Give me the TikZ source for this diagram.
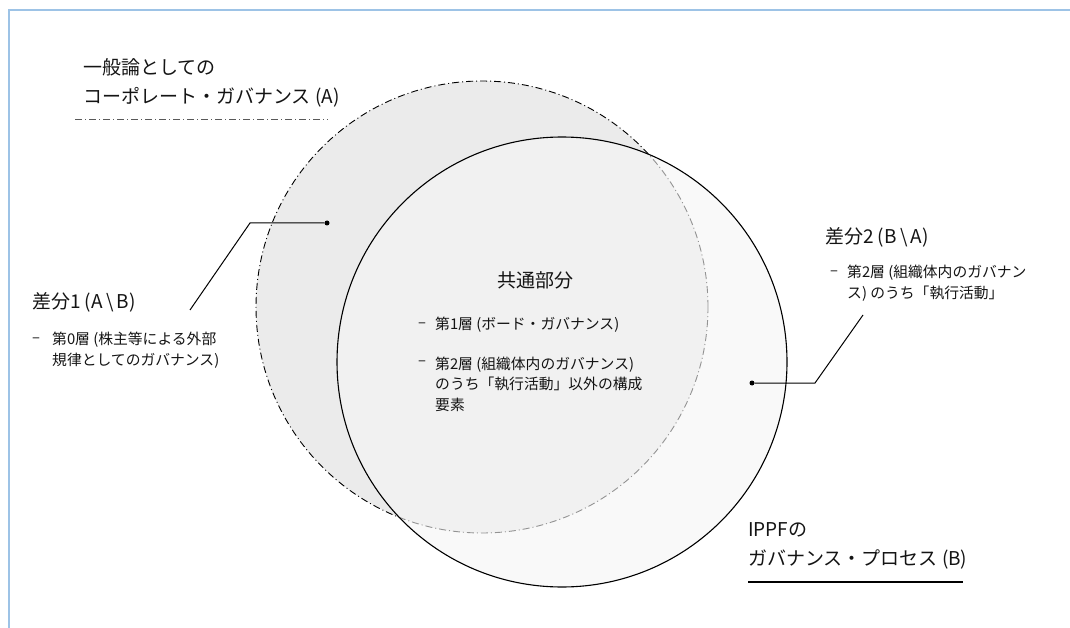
\documentclass[tikz,border=0pt]{standalone}
\usepackage{fontspec}
\setmainfont{Noto Sans CJK JP}
\usetikzlibrary{positioning}
\definecolor{frameblue}{RGB}{157,195,230}
\definecolor{ink}{RGB}{20,20,20}
\tikzset{
  head/.style={anchor=west, inner sep=0pt, text=ink, align=left,
    font=\fontsize{19}{29}\selectfont},
  item/.style={anchor=west, inner sep=0pt, text=ink, align=left,
    font=\fontsize{14.8}{20.5}\selectfont},
  dashdot/.style={dash pattern=on 7pt off 3pt on 1pt off 3pt},
  leader/.style={line width=1pt},
  tip/.style={circle, fill=black, inner sep=0pt, minimum size=5pt},
}

\begin{document}
\begin{tikzpicture}[x=1pt,y=-1pt]
\useasboundingbox (0,0) rectangle (1070,628);
    %frame
    \draw[frameblue, line width=1.5pt] (9,628) -- (9,10) -- (1070,10);
    %circles
    \fill[black!8] (482,307) circle (226pt);
    \draw[dashdot, line width=0.9pt] (482,307) circle (226pt);
    \fill[black!4, fill opacity=0.6] (562,362) circle (225pt);
    \draw[line width=1.1pt] (562,362) circle (225pt);
    %set A
    \node[head] (setA) at (83,82.5) {一般論としての\\コーポレート・ガバナンス (A)};
    \coordinate (ulineAl) at (75,119);
    \coordinate (ulineAr) at (328,119);
    \draw[dashdot, black!65, line width=0.9pt] (ulineAl) -- (ulineAr);
    %set B
    \node[head] (setB) at (748,546) {IPPFの\\ガバナンス・プロセス (B)};
    \coordinate (ulineBl) at (748,582);
    \coordinate (ulineBr) at (963,582);
    \draw[line width=1.5pt] (ulineBl) -- (ulineBr);
    %difference 1
    \node[head] (diffA) at (32,302) {差分1 (A\,\textbackslash\,B)};
    \node[item] (diffAdash) at (32,340) {–};
    \node[item] (diffAitem) at (52,350) {第0層 (株主等による外部\\規律としてのガバナンス)};
    \node[tip] (dotA) at (327,223) {};
    \coordinate (bendA) at (250,223);
    \coordinate (footA) at (190,310);
    \draw[leader] (footA) -- (bendA) -- (dotA);
    %common part
    \node[head, anchor=center] (common) at (535,280) {共通部分};
    \node[item] (commonDashA) at (418,325) {–};
    \node[item] (commonItemA) at (435,325) {第1層 (ボード・ガバナンス)};
    \node[item] (commonDashB) at (418,363) {–};
    \node[item] (commonItemB) at (435,384) {第2層 (組織体内のガバナンス)\\のうち「執行活動」以外の構成\\要素};
    %difference 2
    \node[head] (diffB) at (825,237) {差分2 (B\,\textbackslash\,A)};
    \node[item] (diffBdash) at (830,273) {–};
    \node[item] (diffBitem) at (847,283) {第2層 (組織体内のガバナン\\ス) のうち「執行活動」};
    \node[tip] (dotB) at (752,383) {};
    \coordinate (bendB) at (815,383);
    \coordinate (footB) at (863,315);
    \draw[leader] (dotB) -- (bendB) -- (footB);
\end{tikzpicture}
\end{document}
